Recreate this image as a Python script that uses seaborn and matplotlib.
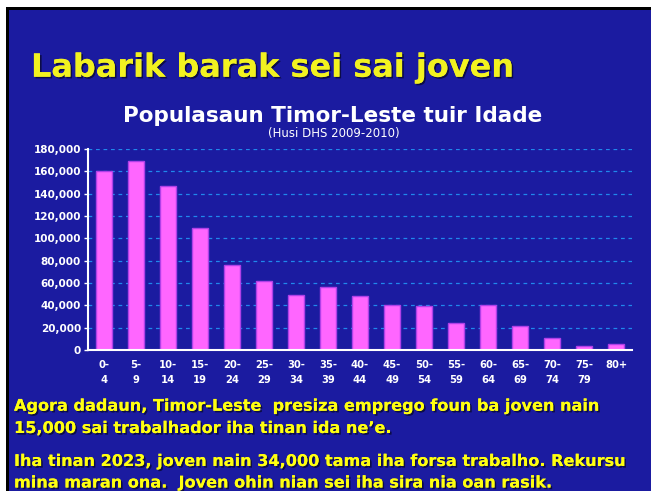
import matplotlib
matplotlib.use("Agg")
import matplotlib.pyplot as plt
import matplotlib.patheffects as pe
from matplotlib.patches import Rectangle
from matplotlib.ticker import FuncFormatter, MultipleLocator
import seaborn as sns
import pandas as pd

age_groups = ["0-\n4", "5-\n9", "10-\n14", "15-\n19", "20-\n24", "25-\n29", "30-\n34",
              "35-\n39", "40-\n44", "45-\n49", "50-\n54", "55-\n59", "60-\n64", "65-\n69",
              "70-\n74", "75-\n79", "80+"]
population = [160000, 169000, 147000, 109000, 76500, 62000, 49000, 56500, 48000,
              40000, 39000, 24000, 40000, 21500, 10500, 4000, 5400]

slide_title = "Labarik barak sei sai joven"
chart_title = "Populasaun Timor-Leste tuir Idade"
chart_subtitle = "(Husi DHS 2009-2010)"
body_lines = [
    "Agora dadaun, Timor-Leste  presiza emprego foun ba joven nain",
    "15,000 sai trabalhador iha tinan ida ne\u2019e.",
    "Iha tinan 2023, joven nain 34,000 tama iha forsa trabalho. Rekursu",
    "mina maran ona.  Joven ohin nian sei iha sira nia oan rasik.",
]

W, H = 651, 491
BLUE = "#1b1ba0"
PINK = "#ff66ff"
YELLOW = "#ffff10"

sns.set_style("white")
plt.rcParams["font.family"] = ["DejaVu Sans"]

fig = plt.figure(figsize=(W / 100, H / 100), dpi=100, facecolor="white")

def fx(px):
    return px / W

def fy(py):
    return 1 - py / H

# slide background with black border on top/left
fig.add_artist(Rectangle((fx(6), 0), 1, fy(7), transform=fig.transFigure,
                         facecolor="black", edgecolor="none", zorder=-3))
fig.add_artist(Rectangle((fx(9), 0), 1, fy(10), transform=fig.transFigure,
                         facecolor=BLUE, edgecolor="none", zorder=-2))

ax = fig.add_axes([fx(88), fy(350), fx(632) - fx(88), fy(149) - fy(350)])
ax.set_facecolor("none")

df = pd.DataFrame({"age": age_groups, "pop": population})
sns.barplot(data=df, x="age", y="pop", ax=ax, color=PINK, saturation=1,
            width=0.5, edgecolor="#b040e8", linewidth=1.0, zorder=3)

ax.set_xlim(-0.5, len(age_groups) - 0.5)
ax.set_ylim(0, 180000)
ax.yaxis.set_major_locator(MultipleLocator(20000))
ax.yaxis.set_major_formatter(FuncFormatter(lambda v, p: f"{int(v):,}"))
ax.set_xlabel("")
ax.set_ylabel("")

ax.yaxis.grid(True, color="#2088ec", linestyle=(0, (3, 3)), linewidth=0.9, zorder=0)
ax.xaxis.grid(False)
ax.set_axisbelow(True)

for s in ["top", "right"]:
    ax.spines[s].set_visible(False)
for s in ["left", "bottom"]:
    ax.spines[s].set_color("white")
    ax.spines[s].set_linewidth(1.5)
    ax.spines[s].set_zorder(5)

ax.tick_params(axis="y", colors="white", length=3, width=1, pad=2, labelsize=7.5, left=True)
ax.tick_params(axis="x", colors="white", length=0, pad=7, labelsize=7.2, bottom=False)
for lab in ax.get_yticklabels():
    lab.set_fontweight("bold")
for lab in ax.get_xticklabels():
    lab.set_fontweight("bold")
    lab.set_linespacing(1.6)
    lab.set_va("top")
    lab.set_ha("center")
    lab.set_multialignment("center")

shadow = [pe.withSimplePatchShadow(offset=(1.2, -1.2), shadow_rgbFace="black", alpha=0.55),
          pe.Normal()]

fig.text(fx(31), fy(76.7), slide_title, fontsize=23, fontweight="bold",
         color="#f2f220", ha="left", va="baseline", path_effects=shadow)
fig.text(fx(333), fy(121.7), chart_title, fontsize=15.5, fontweight="bold",
         color="white", ha="center", va="baseline")
fig.text(fx(333.5), fy(137), chart_subtitle, fontsize=8.5,
         color="white", ha="center", va="baseline")

for txt, base in zip(body_lines, [410.7, 433, 466, 487.5]):
    fig.text(fx(14), fy(base), txt, fontsize=11.6, fontweight="bold",
             color=YELLOW, ha="left", va="baseline", path_effects=shadow)

fig.savefig("out.png", dpi=100, facecolor=fig.get_facecolor())
